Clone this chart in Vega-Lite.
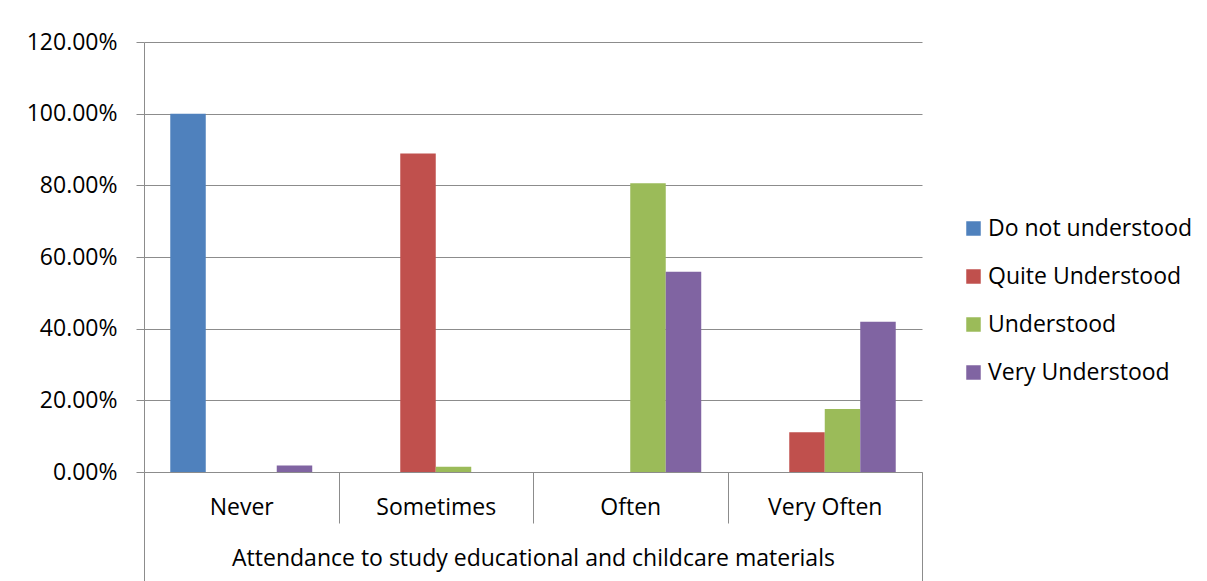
{
  "$schema": "https://vega.github.io/schema/vega-lite/v6.json",
  "width": 778,
  "height": 430,
  "autosize": "none",
  "padding": {"left": 144, "top": 42, "right": 285, "bottom": 109},
  "background": "white",
  "config": {
    "view": {"stroke": null},
    "font": "Open Sans",
    "text": {"font": "Open Sans"}
  },
  "data": {
    "values": [
      {"category": "Never", "series": "Do not understood", "value": 1.0},
      {"category": "Never", "series": "Very Understood", "value": 0.018},
      {"category": "Sometimes", "series": "Quite Understood", "value": 0.889},
      {"category": "Sometimes", "series": "Understood", "value": 0.015},
      {"category": "Often", "series": "Understood", "value": 0.806},
      {"category": "Often", "series": "Very Understood", "value": 0.559},
      {"category": "Very Often", "series": "Quite Understood", "value": 0.111},
      {"category": "Very Often", "series": "Understood", "value": 0.176},
      {"category": "Very Often", "series": "Very Understood", "value": 0.419}
    ]
  },
  "mark": {"type": "bar"},
  "encoding": {
    "x": {
      "field": "category",
      "type": "nominal",
      "sort": ["Never", "Sometimes", "Often", "Very Often"],
      "scale": {"domain": ["Never", "Sometimes", "Often", "Very Often"], "paddingInner": 0, "paddingOuter": 0},
      "axis": {
        "title": "Attendance to study educational and childcare materials",
        "titleFont": "Open Sans",
        "titleFontSize": 23,
        "titleFontWeight": "normal",
        "titleColor": "#000000",
        "titleY": 86,
        "titleBaseline": "middle",
        "labelAngle": 0,
        "labelFont": "Open Sans",
        "labelFontSize": 23,
        "labelColor": "#000000",
        "labelPadding": {"condition": {"test": "datum.value !== 'Never' && datum.value !== 'Sometimes' && datum.value !== 'Often'", "value": -74}, "value": -16},
        "labelBaseline": "middle",
        "tickBand": "extent",
        "tickColor": "#8c8c8c",
        "tickWidth": 1,
        "tickSize": {"condition": {"test": "datum.value !== 'Never' && datum.value !== 'Sometimes' && datum.value !== 'Often'", "value": 109}, "value": 51},
        "domainColor": "#8c8c8c",
        "domainWidth": 1,
        "grid": false
      }
    },
    "xOffset": {
      "field": "series",
      "type": "nominal",
      "scale": {"domain": ["Do not understood", "Quite Understood", "Understood", "Very Understood"], "paddingInner": 0, "paddingOuter": 0.74}
    },
    "y": {
      "field": "value",
      "type": "quantitative",
      "scale": {"domain": [0, 1.2], "nice": false},
      "axis": {
        "title": null,
        "values": [0, 0.2, 0.4, 0.6, 0.8, 1.0, 1.2],
        "format": ".2%",
        "labelFont": "Open Sans",
        "labelFontSize": 23,
        "labelColor": "#000000",
        "labelPadding": 19,
        "tickSize": 8,
        "tickColor": "#8c8c8c",
        "domainColor": "#8c8c8c",
        "gridColor": "#8c8c8c",
        "gridWidth": 1,
        "gridOpacity": 1
      }
    },
    "color": {
      "field": "series",
      "type": "nominal",
      "scale": {
        "domain": ["Do not understood", "Quite Understood", "Understood", "Very Understood"],
        "range": ["#4f81bd", "#c0504d", "#9bbb59", "#8064a2"]
      },
      "legend": {
        "title": null,
        "orient": "none",
        "legendX": 818,
        "legendY": 175,
        "padding": 0,
        "symbolType": "square",
        "symbolSize": 210,
        "symbolStrokeWidth": 0,
        "symbolOffset": 0,
        "labelFont": "Open Sans",
        "labelFontSize": 23,
        "labelColor": "#000000",
        "labelOffset": 3,
        "labelLimit": 300,
        "rowPadding": 24
      }
    }
  }
}
